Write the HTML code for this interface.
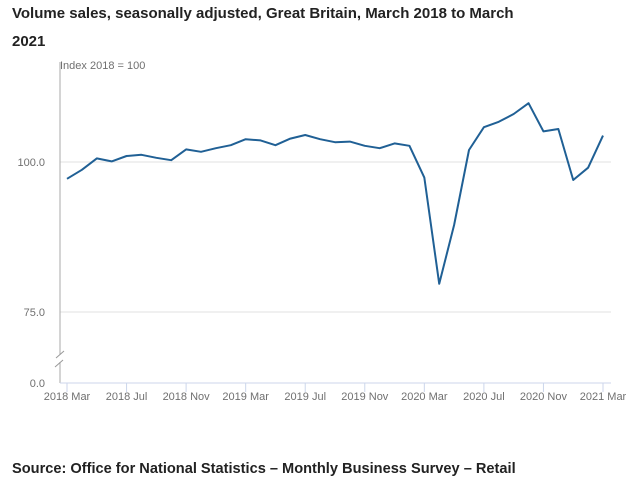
<!DOCTYPE html>
<html><head><meta charset="utf-8"><style>
body{margin:0;background:#fff;font-family:"Liberation Sans",sans-serif;}
#wrap{position:relative;width:641px;height:483px;overflow:hidden}
.title{position:absolute;left:12px;top:0px;font-size:15px;font-weight:bold;color:#222;line-height:28px;width:515px}
.src{position:absolute;left:12px;top:461px;font-size:14.6px;font-weight:bold;color:#222}
svg text{font-family:"Liberation Sans",sans-serif;font-size:11px;fill:#707070}
</style></head><body>
<div id="wrap">
<div class="title">Volume sales, seasonally adjusted, Great Britain, March 2018 to March 2021</div>
<svg id="chart" width="641" height="483" style="position:absolute;left:0;top:0"></svg>
<div class="src">Source: Office for National Statistics – Monthly Business Survey – Retail</div>
</div>
<script>
const values=[97.2,98.7,100.6,100.1,101.0,101.2,100.7,100.3,102.1,101.7,102.3,102.8,103.8,103.6,102.8,103.9,104.5,103.8,103.3,103.4,102.7,102.3,103.1,102.7,97.4,79.7,89.5,102.0,105.8,106.7,108.0,109.8,105.1,105.5,97.0,99.05,104.4];
const xTickLabels=["2018 Mar","2018 Jul","2018 Nov","2019 Mar","2019 Jul","2019 Nov","2020 Mar","2020 Jul","2020 Nov","2021 Mar"];
const yTicks=[100,75];
const NS="http://www.w3.org/2000/svg";
const svg=document.getElementById('chart');
function x(i){return 67+i*(603-67)/36;}
function y(v){return 162-(v-100)*6;}
function mk(t,a){const e=document.createElementNS(NS,t);for(const k in a)e.setAttribute(k,a[k]);svg.appendChild(e);return e;}
yTicks.forEach(v=>{
 const g=mk('line',{x1:60,x2:611,y1:y(v),y2:y(v),stroke:'#e2e2e2','stroke-width':1});
 
 
 const t=mk('text',{x:45,y:y(v)+4,'text-anchor':'end'});t.textContent=v.toFixed(1);
 
 
});
const z=mk('text',{x:45,y:387,'text-anchor':'end'});z.textContent='0.0';


const ya=mk('path',{d:'M60,62 V355 M60,362 V383',stroke:'#aaa','stroke-width':1,fill:'none'});


const br=mk('path',{d:'M56,358 L64,351 M55,367 L63,360',stroke:'#999','stroke-width':1,fill:'none'});


const xa=mk('line',{x1:60,x2:611,y1:383,y2:383,stroke:'#ccd6eb','stroke-width':1});


const yl=mk('text',{x:60,y:69});yl.textContent='Index 2018 = 100';


xTickLabels.forEach((l,k)=>{
 const xi=x(k*4);
 const tk=mk('line',{x1:xi,x2:xi,y1:383,y2:392,stroke:'#ccd6eb'});
 
 
 const t=mk('text',{x:xi,y:400,'text-anchor':'middle'});t.textContent=l;
 
 
});
const p=mk('polyline',{points:values.map((v,i)=>x(i)+','+y(v)).join(' '),fill:'none',stroke:'#206095','stroke-width':2,'stroke-linejoin':'round'});


</script>
</body></html>
